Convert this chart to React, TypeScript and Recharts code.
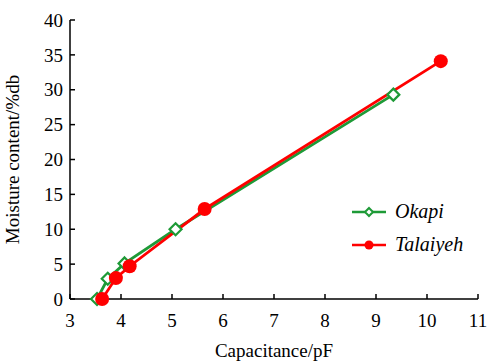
import React, { useEffect, useState } from 'react';
import { LineChart, Line, XAxis, YAxis } from 'recharts';

// Okapi (green, open diamonds)
const okapiCap = [3.53, 3.74, 4.07, 5.07, 9.34];
const okapiMoist = [0, 2.9, 5.1, 10.0, 29.3];

// Talaiyeh (red, filled circles)
const talaiyehCap = [3.63, 3.9, 4.17, 5.64, 10.27];
const talaiyehMoist = [0, 3.0, 4.7, 12.9, 34.1];

const xTicks = [3, 4, 5, 6, 7, 8, 9, 10, 11];
const yTicks = [0, 5, 10, 15, 20, 25, 30, 35, 40];

const GREEN = '#1e9a37';
const RED = '#ff0000';
const FONT = "'Liberation Serif', 'Tinos', 'DejaVu Serif'";

const okapiData = okapiCap.map((x, i) => ({ x, y: okapiMoist[i] }));
const talaiyehData = talaiyehCap.map((x, i) => ({ x, y: talaiyehMoist[i] }));

const Diamond = (props: any) => {
    const { cx, cy } = props;
    if (cx == null || cy == null) return null;
    const r = 6;
    return (
        <path
            d={`M${cx},${cy - r} L${cx + r},${cy} L${cx},${cy + r} L${cx - r},${cy} Z`}
            fill="#fff"
            stroke={GREEN}
            strokeWidth={2.2}
        />
    );
};

const LegendBox = () => (
    <svg width={140} height={70} style={{ position: 'absolute', left: 350, top: 195 }}>
        <line x1={2} y1={17} x2={36} y2={17} stroke={GREEN} strokeWidth={2.5} />
        <path d="M19,13 L23,17 L19,21 L15,17 Z" fill="#fff" stroke={GREEN} strokeWidth={2} />
        <text x={45} y={23} fontFamily={FONT} fontSize={20} fontStyle="italic" fill="#000">Okapi</text>
        <line x1={2} y1={50} x2={36} y2={50} stroke={RED} strokeWidth={2.5} />
        <circle cx={19} cy={50} r={4.5} fill={RED} />
        <text x={45} y={56} fontFamily={FONT} fontSize={20} fontStyle="italic" fill="#000">Talaiyeh</text>
    </svg>
);

export default function App() {
    // re-render once the serif face is loaded so text doesn't stick with the fallback
    const [fontTick, setFontTick] = useState(0);
    useEffect(() => {
        const fonts = (document as any).fonts;
        if (!fonts) return;
        Promise.all([
            fonts.load("19px 'Liberation Serif'"),
            fonts.load("italic 20px 'Liberation Serif'"),
        ]).then(() => setFontTick((t) => t + 1)).catch(() => {});
    }, []);

    const tickStyle = { fill: '#000', fontSize: 19, fontFamily: FONT };
    return (
        <div key={fontTick} style={{ position: 'absolute', left: 0, top: 0, width: 489, height: 363, background: '#fff', fontFamily: FONT }}>
            <LineChart width={489} height={363} margin={{ top: 20, right: 11, bottom: 0, left: 0 }}>
                <XAxis
                    type="number"
                    dataKey="x"
                    domain={[3, 11]}
                    ticks={xTicks}
                    allowDataOverflow
                    height={64}
                    tickSize={-5}
                    tickMargin={20}
                    stroke="#000"
                    strokeWidth={1.5}
                    tick={tickStyle}
                    label={{ value: 'Capacitance/pF', position: 'insideBottom', offset: 6, fontFamily: FONT, fontSize: 19, fill: '#000' }}
                />
                <YAxis
                    type="number"
                    dataKey="y"
                    domain={[0, 40]}
                    ticks={yTicks}
                    width={70}
                    tickSize={-5}
                    tickMargin={12}
                    stroke="#000"
                    strokeWidth={1.5}
                    tick={tickStyle}
                    label={{ value: 'Moisture content/%db', angle: -90, position: 'insideLeft', offset: 12, fontFamily: FONT, fontSize: 19, fill: '#000', style: { textAnchor: 'middle' } }}
                />
                <Line
                    data={okapiData}
                    dataKey="y"
                    stroke={GREEN}
                    strokeWidth={2.8}
                    dot={<Diamond />}
                    isAnimationActive={false}
                />
                <Line
                    data={talaiyehData}
                    dataKey="y"
                    stroke={RED}
                    strokeWidth={2.8}
                    dot={{ r: 7, fill: RED, stroke: RED, strokeWidth: 0 }}
                    isAnimationActive={false}
                />
            </LineChart>
            <LegendBox />
        </div>
    );
}
